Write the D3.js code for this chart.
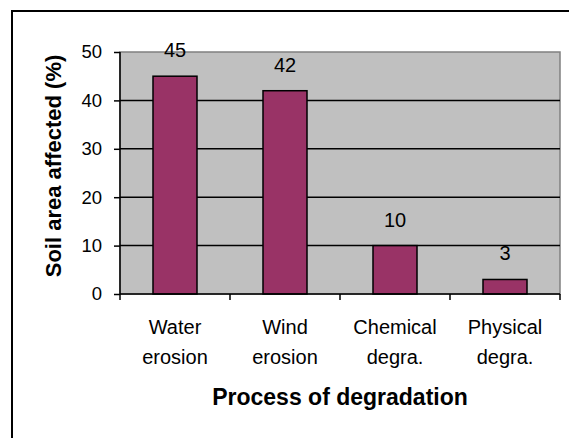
<!DOCTYPE html>
<html>
<head>
<meta charset="utf-8">
<script src="https://cdn.jsdelivr.net/npm/d3@7"></script>
<style>
  html, body { margin: 0; padding: 0; background: #fff; }
  svg { display: block; font-family: "Liberation Sans", Arial, sans-serif; }
</style>
</head>
<body>
<svg id="chart" width="569" height="438"></svg>
<script>
const categories = [["Water", "erosion"], ["Wind", "erosion"], ["Chemical", "degra."], ["Physical", "degra."]];
const values = [45, 42, 10, 3];
const yTicks = [0, 10, 20, 30, 40, 50];
const yTitle = "Soil area affected (%)";
const xTitle = "Process of degradation";

const svg = d3.select("#chart");
const plot = { left: 120, right: 560, top: 52, bottom: 294 };

// outer frame
svg.append("rect")
  .attr("x", 12).attr("y", 11).attr("width", 620).attr("height", 500)
  .attr("fill", "#fff").attr("stroke", "#000").attr("stroke-width", 2);

const keys = categories.map(c => c.join(" "));
const x = d3.scaleBand().domain(keys).range([plot.left, plot.right])
  .paddingInner(0.6).paddingOuter(0.3);
const y = d3.scaleLinear().domain([0, 50]).range([plot.bottom, plot.top]);

// plot background
svg.append("rect")
  .attr("x", plot.left).attr("y", y(50))
  .attr("width", plot.right - plot.left).attr("height", y(0) - y(50))
  .attr("fill", "#c0c0c0").attr("stroke", "#808080").attr("stroke-width", 1.5);

// gridlines
svg.append("g").selectAll("line").data(yTicks.filter(t => t > 0 && t < 50)).join("line")
  .attr("x1", plot.left).attr("x2", plot.right)
  .attr("y1", d => y(d)).attr("y2", d => y(d))
  .attr("stroke", "#000").attr("stroke-width", 1.5);

// bars
svg.append("g").selectAll("rect").data(values).join("rect")
  .attr("x", (d, i) => x(keys[i]))
  .attr("y", d => y(d))
  .attr("width", x.bandwidth())
  .attr("height", d => y(0) - y(d))
  .attr("fill", "#993366").attr("stroke", "#000").attr("stroke-width", 1.5);

// data labels
svg.append("g").selectAll("text").data(values).join("text")
  .attr("x", (d, i) => x(keys[i]) + x.bandwidth() / 2)
  .attr("y", d => y(d) - 19)
  .attr("text-anchor", "middle")
  .attr("font-size", 20)
  .attr("fill", "#000")
  .text(d => d);

// y axis
const yAxis = d3.axisLeft(y).tickValues(yTicks).tickSize(6).tickPadding(12);
const gy = svg.append("g").attr("transform", `translate(${plot.left},0)`).call(yAxis);
gy.select(".domain").attr("stroke", "#000").attr("stroke-width", 1.5).attr("d", `M0,${y(50)}V${y(0)}`);
gy.selectAll(".tick line").attr("stroke", "#000").attr("stroke-width", 1.5);
gy.selectAll(".tick text").attr("font-size", 18.5).attr("fill", "#000")
  .attr("font-family", "Liberation Sans, Arial, sans-serif");

// x axis line and category boundary ticks
const bounds = d3.range(keys.length + 1).map(i => plot.left + i * x.step());
svg.append("line")
  .attr("x1", plot.left).attr("x2", plot.right)
  .attr("y1", y(0)).attr("y2", y(0))
  .attr("stroke", "#000").attr("stroke-width", 1.5);
svg.append("g").selectAll("line").data(bounds).join("line")
  .attr("x1", d => d).attr("x2", d => d)
  .attr("y1", y(0)).attr("y2", y(0) + 6)
  .attr("stroke", "#000").attr("stroke-width", 1.5);

// category labels
const cl = svg.append("g").selectAll("text").data(categories).join("text")
  .attr("text-anchor", "middle")
  .attr("font-size", 20)
  .attr("fill", "#000")
  .attr("transform", (d, i) => `translate(${x(keys[i]) + x.bandwidth() / 2},0)`);
cl.selectAll("tspan").data(d => d).join("tspan")
  .attr("x", 0)
  .attr("y", (d, j) => 334 + j * 30)
  .text(d => d);

// axis titles
svg.append("text")
  .attr("x", (plot.left + plot.right) / 2).attr("y", 405)
  .attr("text-anchor", "middle")
  .attr("font-size", 23).attr("font-weight", "bold").attr("fill", "#000")
  .text(xTitle);

svg.append("text")
  .attr("transform", `translate(61,166) rotate(-90)`)
  .attr("text-anchor", "middle")
  .attr("font-size", 22).attr("font-weight", "bold").attr("fill", "#000")
  .text(yTitle);
</script>
</body>
</html>
